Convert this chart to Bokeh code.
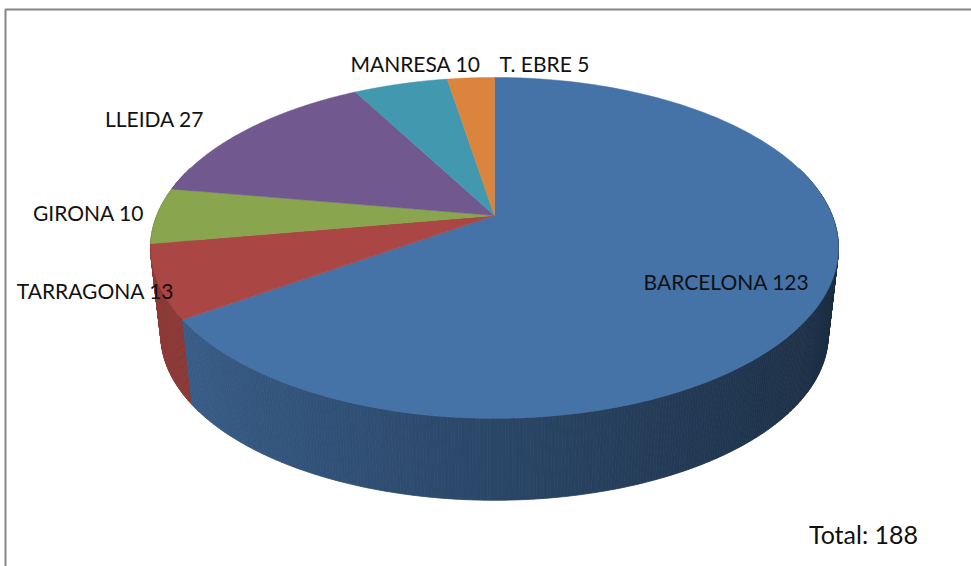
import numpy as np
from bokeh.plotting import figure
from bokeh.models import Range1d, ColumnDataSource
from bokeh.embed import file_html
from bokeh.resources import INLINE
from bokeh.core.properties import value

# ---- data ----
categories = ["BARCELONA", "TARRAGONA", "GIRONA", "LLEIDA", "MANRESA", "T. EBRE"]
values = [123, 13, 10, 27, 10, 5]
colors = ["#4572A7", "#AA4643", "#89A54E", "#71588F", "#4198AF", "#DB843D"]

# ---- layout (label anchors: centre x, baseline y, in pixels) ----
label_x = [726, 95, 88, 154, 415, 544]
label_y = [281, 290, 212, 118, 63, 63]
total_pos = (863, 533)

W, H = 971, 566
p = figure(width=W, height=H, x_range=Range1d(0, W), y_range=Range1d(H, 0),
           output_backend="svg", toolbar_location=None, min_border=0)
p.axis.visible = False
p.grid.visible = False
p.outline_line_color = None
p.background_fill_color = "white"

# projection of the tilted disc
cx, cy = 494.0, 215.0
a, b, k = 337.7, 164.3, -0.19
s_bot, cy_bot = 0.97, 303.0


def top_pt(theta, r=1.0):
    u, v = np.sin(theta), -np.cos(theta)
    den = 1 + k * r * v
    return cx + a * r * u / den, cy + b * r * v / den


def bot_pt(theta):
    x, y = top_pt(theta)
    return cx + s_bot * (x - cx), cy_bot + s_bot * (y - cy)


def shade(hexcol, f):
    h = hexcol.lstrip("#")
    rgb = [int(h[i:i + 2], 16) for i in (0, 2, 4)]
    return "#%02x%02x%02x" % tuple(max(0, min(255, int(c * f))) for c in rgb)


total = sum(values)
fr = np.cumsum([0] + values) / total
starts = fr[:-1] * 2 * np.pi
ends = fr[1:] * 2 * np.pi

# side walls
walls = []
for i in range(len(values)):
    n = max(4, int((ends[i] - starts[i]) / (2 * np.pi) * 720))
    th = np.linspace(starts[i], ends[i], n + 1)
    for j in range(n):
        t0, t1 = th[j], th[j + 1]
        tm = 0.5 * (t0 + t1)
        u, v = np.sin(tm), -np.cos(tm)
        if v < -0.3:
            continue
        x0, y0 = top_pt(t0)
        x1, y1 = top_pt(t1)
        bx1, by1 = bot_pt(t1)
        bx0, by0 = bot_pt(t0)
        col = shade(colors[i], 0.62 - 0.23 * u)
        walls.append((v, [x0, x1, bx1, bx0], [y0, y1, by1, by0], col))
walls.sort(key=lambda w: w[0])
wsrc = ColumnDataSource(dict(xs=[w[1] for w in walls], ys=[w[2] for w in walls],
                             c=[w[3] for w in walls]))
p.patches("xs", "ys", source=wsrc, fill_color="c", line_color="c", line_width=0.8)

# top faces
txs, tys = [], []
for i in range(len(values)):
    th = np.linspace(starts[i], ends[i], 200)
    pts = [top_pt(t) for t in th]
    txs.append([cx] + [q[0] for q in pts])
    tys.append([cy] + [q[1] for q in pts])
p.patches(txs, tys, fill_color=colors, line_color=colors, line_width=0.5)

# frame
p.line([5, 5, 990], [590, 9, 9], line_color="#868686", line_width=2)

# labels
texts = [f"{c} {v}" for c, v in zip(categories, values)]
p.text(x=label_x, y=label_y, text=texts, text_align="center", text_baseline="alphabetic",
       text_font=value("Lato"), text_font_size="21px", text_color="#111111")
p.text(x=[total_pos[0]], y=[total_pos[1]], text=[f"Total: {total}"], text_align="center",
       text_baseline="alphabetic", text_font=value("Lato"), text_font_size="25px",
       text_color="#111111")

open("out.html", "w").write(file_html(p, INLINE))
